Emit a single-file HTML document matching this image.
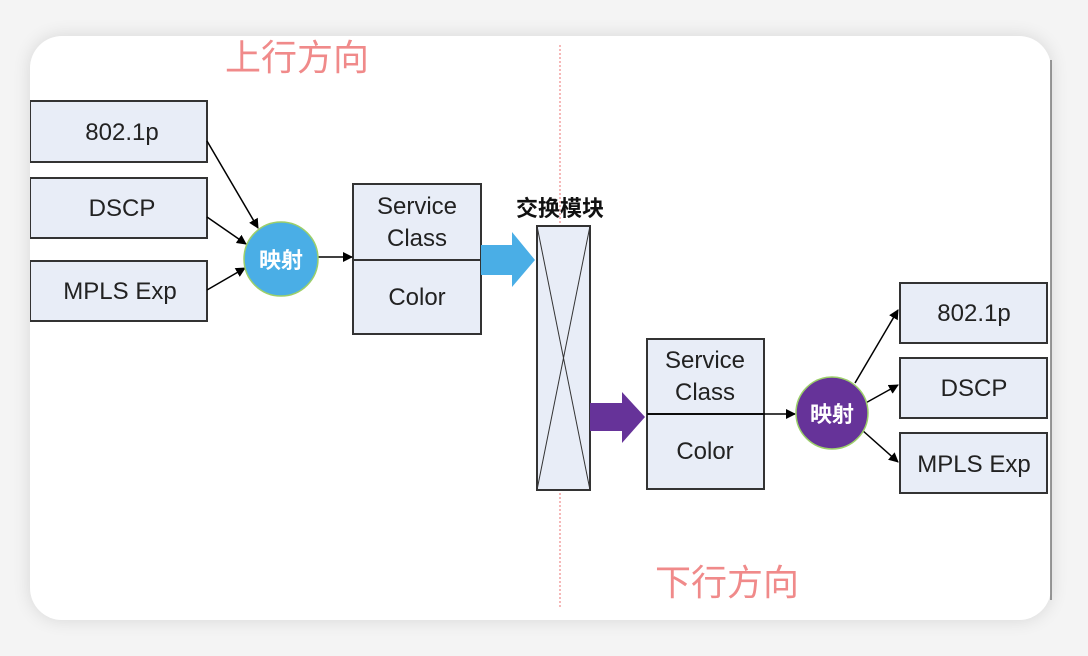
<!DOCTYPE html>
<html><head><meta charset="utf-8"><style>
html,body{margin:0;padding:0;background:#f4f4f4;}
body{width:1088px;height:656px;overflow:hidden;position:relative;}
.card{position:absolute;left:30px;top:36px;width:1021px;height:584px;background:#fff;border-radius:32px;box-shadow:0 0 18px rgba(0,0,0,0.12);overflow:hidden;}
svg{position:absolute;left:0;top:0;}
text{font-family:"Liberation Sans","Noto Sans CJK SC",sans-serif;}
</style></head><body>
<div class="card"></div>
<svg width="1088" height="656" viewBox="0 0 1088 656">
<defs>
<marker id="ah" markerWidth="10" markerHeight="10" refX="9" refY="5" orient="auto" markerUnits="userSpaceOnUse"><path d="M0,0 L10,5 L0,10 z" fill="#000"/></marker>
<clipPath id="cc"><rect x="30" y="36" width="1021" height="584" rx="32"/></clipPath>
</defs>
<g clip-path="url(#cc)">
<line x1="560" y1="45" x2="560" y2="607" stroke="#f2a0a0" stroke-width="1.5" stroke-dasharray="2,2"/>
<text x="297" y="70" font-size="36" fill="#f08a8a" text-anchor="middle">上行方向</text>
<text x="727" y="595" font-size="36" fill="#f08a8a" text-anchor="middle">下行方向</text>
<g fill="#e8edf7" stroke="#333" stroke-width="2">
<rect x="30" y="101" width="177" height="61"/>
<rect x="30" y="178" width="177" height="60"/>
<rect x="30" y="261" width="177" height="60"/>
<rect x="353" y="184" width="128" height="150"/>
<rect x="537" y="226" width="53" height="264"/>
<rect x="647" y="339" width="117" height="150"/>
<rect x="900" y="283" width="147" height="60"/>
<rect x="900" y="358" width="147" height="60"/>
<rect x="900" y="433" width="147" height="60"/>
</g>
<line x1="353" y1="260" x2="481" y2="260" stroke="#333" stroke-width="2"/>
<line x1="647" y1="414" x2="764" y2="414" stroke="#333" stroke-width="2"/>
<line x1="537" y1="226" x2="590" y2="490" stroke="#333" stroke-width="1"/>
<line x1="590" y1="226" x2="537" y2="490" stroke="#333" stroke-width="1"/>
<g font-size="24" fill="#222" text-anchor="middle">
<text x="122" y="140">802.1p</text>
<text x="122" y="216">DSCP</text>
<text x="120" y="299">MPLS Exp</text>
<text x="417" y="214">Service</text>
<text x="417" y="246">Class</text>
<text x="417" y="305">Color</text>
<text x="705" y="368">Service</text>
<text x="705" y="400">Class</text>
<text x="705" y="459">Color</text>
<text x="974" y="321">802.1p</text>
<text x="974" y="396">DSCP</text>
<text x="974" y="472">MPLS Exp</text>
</g>
<text x="560" y="216" font-size="22" font-weight="bold" fill="#111" text-anchor="middle">交换模块</text>
<polygon points="481,245 512,245 512,232 535,260 512,287 512,275 481,275" fill="#4aaee6"/>
<polygon points="590,403 622,403 622,392 645,417 622,443 622,431 590,431" fill="#663399"/>
<line x1="207" y1="141" x2="258" y2="228" stroke="#000" stroke-width="1.5" marker-end="url(#ah)"/>
<line x1="207" y1="217" x2="246" y2="244" stroke="#000" stroke-width="1.5" marker-end="url(#ah)"/>
<line x1="207" y1="290" x2="245" y2="268" stroke="#000" stroke-width="1.5" marker-end="url(#ah)"/>
<line x1="318" y1="257" x2="352" y2="257" stroke="#000" stroke-width="1.5" marker-end="url(#ah)"/>
<circle cx="281" cy="259" r="37" fill="#4aaee6" stroke="#9ccf6a" stroke-width="1.5"/>
<text x="281" y="268" font-size="22" font-weight="bold" fill="#fff" text-anchor="middle">映射</text>
<line x1="647" y1="414" x2="795" y2="414" stroke="#000" stroke-width="1.5" marker-end="url(#ah)"/>
<line x1="855" y1="383" x2="898" y2="310" stroke="#000" stroke-width="1.5" marker-end="url(#ah)"/>
<line x1="862" y1="405" x2="898" y2="385" stroke="#000" stroke-width="1.5" marker-end="url(#ah)"/>
<line x1="862" y1="430" x2="898" y2="462" stroke="#000" stroke-width="1.5" marker-end="url(#ah)"/>
<circle cx="832" cy="413" r="36" fill="#663399" stroke="#9ccf6a" stroke-width="1.5"/>
<text x="832" y="422" font-size="22" font-weight="bold" fill="#fff" text-anchor="middle">映射</text>
</g>
<line x1="1051" y1="60" x2="1051" y2="600" stroke="#777" stroke-width="1.5"/>
</svg>
</body></html>
